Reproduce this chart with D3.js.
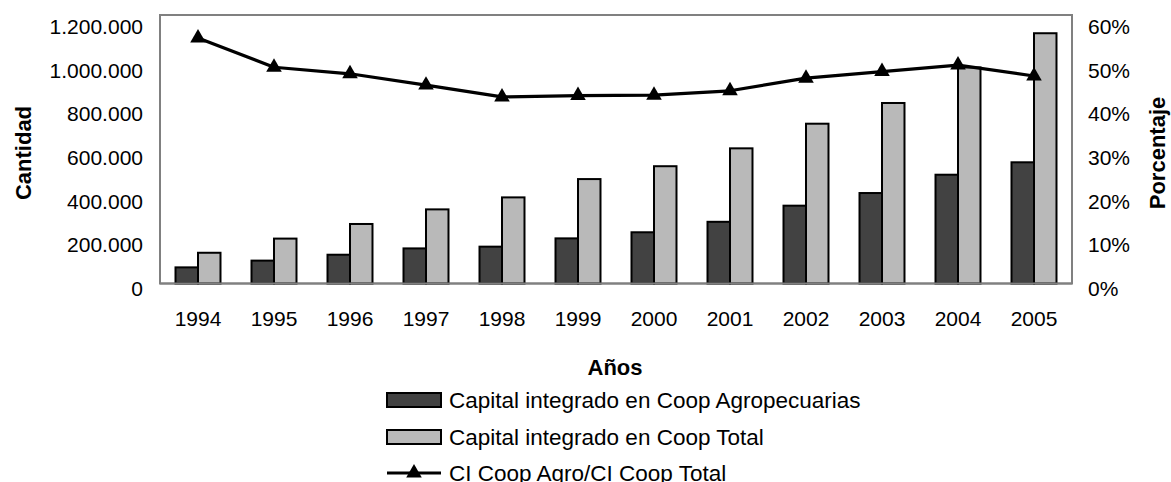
<!DOCTYPE html>
<html>
<head>
<meta charset="utf-8">
<script src="https://cdn.jsdelivr.net/npm/d3@7"></script>
<style>
  html, body { margin: 0; padding: 0; background: #fff; }
  svg { display: block; font-family: "Liberation Sans", Arial, sans-serif; }
</style>
</head>
<body>
<svg id="chart" width="1171" height="482"></svg>
<script>
// ---- data ----
const years = ["1994","1995","1996","1997","1998","1999","2000","2001","2002","2003","2004","2005"];
const capitalAgro = [74000, 105000, 132000, 161000, 169000, 207000, 235000, 283000, 357000, 415000, 499000, 556000];
const capitalTotal = [141000, 206000, 273000, 340000, 395000, 479000, 538000, 620000, 733000, 828000, 991000, 1148000];
const ratioPct = [0.563, 0.496, 0.481, 0.455, 0.428, 0.431, 0.432, 0.442, 0.471, 0.486, 0.501, 0.476];
const leftTickValues = [0, 200000, 400000, 600000, 800000, 1000000, 1200000];
const leftTickLabels = ["0", "200.000", "400.000", "600.000", "800.000", "1.000.000", "1.200.000"];
const rightTickValues = [0, 0.1, 0.2, 0.3, 0.4, 0.5, 0.6];
const rightTickLabels = ["0%", "10%", "20%", "30%", "40%", "50%", "60%"];
const seriesNames = ["Capital integrado en Coop Agropecuarias", "Capital integrado en Coop Total", "CI Coop Agro/CI Coop Total"];
const seriesKeys = ["agro", "total"];

// ---- layout ----
const svg = d3.select("#chart");
const plot = { left: 160, right: 1072, top: 15, bottom: 283.5 };
const axisTopY = 21.9;
const darkFill = "#424242", lightFill = "#b9b9b9";

const x = d3.scaleBand().domain(years).range([plot.left, plot.right])
  .paddingInner(0.408).paddingOuter(0.204);
const xInner = d3.scaleBand().domain(seriesKeys).range([0, x.bandwidth()]).padding(0);
const yLeft = d3.scaleLinear().domain([0, 1200000]).range([plot.bottom, axisTopY]);
const yRight = d3.scaleLinear().domain([0, 0.6]).range([plot.bottom, axisTopY]);

// frame
svg.append("rect")
  .attr("x", plot.left).attr("y", plot.top)
  .attr("width", plot.right - plot.left).attr("height", plot.bottom - plot.top)
  .attr("fill", "none").attr("stroke", "#808080").attr("stroke-width", 2);

// bars
const rows = years.map((yr, i) => ({ year: yr, agro: capitalAgro[i], total: capitalTotal[i] }));
const groups = svg.append("g").selectAll("g").data(rows).join("g")
  .attr("transform", d => `translate(${x(d.year)},0)`);
groups.selectAll("rect")
  .data(d => seriesKeys.map(k => ({ key: k, value: d[k] })))
  .join("rect")
  .attr("x", d => xInner(d.key))
  .attr("y", d => yLeft(d.value))
  .attr("width", xInner.bandwidth())
  .attr("height", d => yLeft(0) - yLeft(d.value))
  .attr("fill", d => d.key === "agro" ? darkFill : lightFill)
  .attr("stroke", "#000").attr("stroke-width", 2);

// bottom axis line over bars
svg.append("line")
  .attr("x1", plot.left).attr("x2", plot.right)
  .attr("y1", plot.bottom).attr("y2", plot.bottom)
  .attr("stroke", "#808080").attr("stroke-width", 2);

// line series
const cx = yr => x(yr) + x.bandwidth() / 2;
const lineGen = d3.line().x((d, i) => cx(years[i])).y(d => yRight(d));
svg.append("path").datum(ratioPct)
  .attr("d", lineGen).attr("fill", "none")
  .attr("stroke", "#000").attr("stroke-width", 3.2).attr("stroke-linejoin", "round");
const tri = d3.symbol().type(d3.symbolTriangle).size(105);
svg.append("g").selectAll("path").data(ratioPct).join("path")
  .attr("d", tri)
  .attr("transform", (d, i) => `translate(${cx(years[i])},${yRight(d)})`)
  .attr("fill", "#000");

// axes
const tickFont = "21px";
const gl = svg.append("g").attr("transform", `translate(${plot.left},5)`)
  .call(d3.axisLeft(yLeft).tickValues(leftTickValues)
    .tickFormat((d, i) => leftTickLabels[i]).tickSize(0).tickPadding(17));
const gr = svg.append("g").attr("transform", `translate(${plot.right},5)`)
  .call(d3.axisRight(yRight).tickValues(rightTickValues)
    .tickFormat((d, i) => rightTickLabels[i]).tickSize(0).tickPadding(16));
const gb = svg.append("g").attr("transform", `translate(0,${plot.bottom})`)
  .call(d3.axisBottom(x).tickSize(0).tickPadding(28));
[gl, gr, gb].forEach(g => {
  g.select(".domain").remove();
  g.selectAll("text").attr("font-size", tickFont).attr("fill", "#000")
    .attr("font-family", "'Liberation Sans', Arial, sans-serif");
});

// axis titles
const titleFont = "22px";
svg.append("text").text("Años")
  .attr("x", 615).attr("y", 375).attr("text-anchor", "middle")
  .attr("font-size", titleFont).attr("font-weight", "bold");
svg.append("text").text("Cantidad")
  .attr("transform", "translate(31,153) rotate(-90)").attr("text-anchor", "middle")
  .attr("font-size", titleFont).attr("font-weight", "bold");
svg.append("text").text("Porcentaje")
  .attr("transform", "translate(1165,153) rotate(-90)").attr("text-anchor", "middle")
  .attr("font-size", titleFont).attr("font-weight", "bold");

// legend
const legX = 387, legW = 54, legTextX = 449;
const legRows = [400, 437, 473];
const legendFont = "22.5px";
[darkFill, lightFill].forEach((f, i) => {
  svg.append("rect").attr("x", legX).attr("y", legRows[i] - 7)
    .attr("width", legW).attr("height", 14)
    .attr("fill", f).attr("stroke", "#000").attr("stroke-width", 2);
});
svg.append("line").attr("x1", legX).attr("x2", legX + legW)
  .attr("y1", legRows[2]).attr("y2", legRows[2])
  .attr("stroke", "#000").attr("stroke-width", 3.2);
svg.append("path").attr("d", tri)
  .attr("transform", `translate(${legX + legW / 2},${legRows[2]})`).attr("fill", "#000");
seriesNames.forEach((n, i) => {
  svg.append("text").text(n).attr("x", legTextX).attr("y", legRows[i] + 8)
    .attr("font-size", legendFont).attr("fill", "#000");
});
</script>
</body>
</html>
